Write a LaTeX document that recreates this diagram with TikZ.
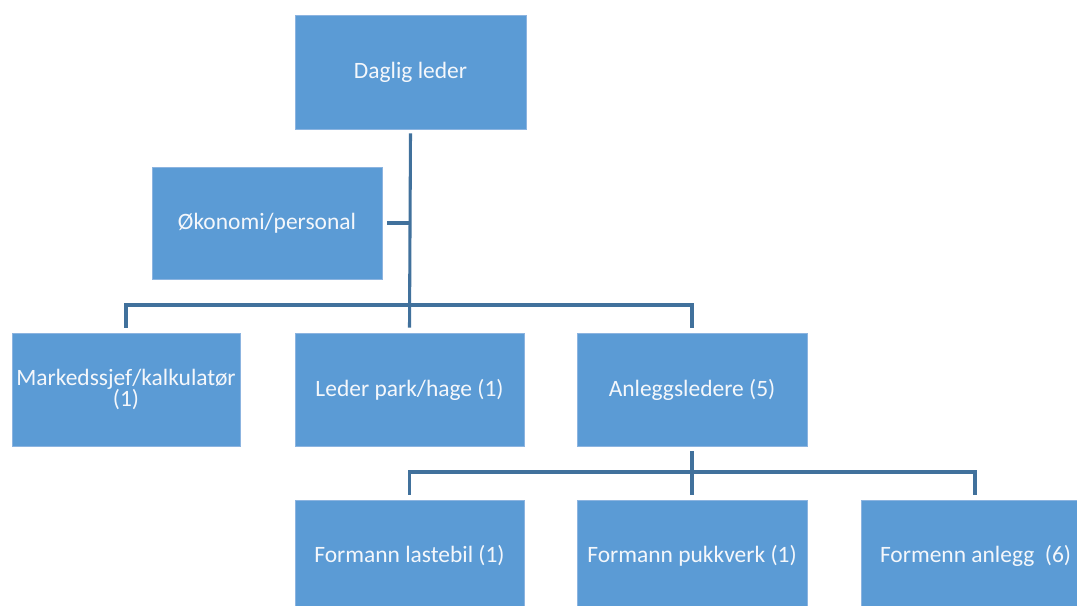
\documentclass[tikz,border=0pt]{standalone}
\usepackage{fontspec}
\setmainfont{Carlito}
\definecolor{boxfill}{HTML}{5B9BD5}
\definecolor{boxedge}{HTML}{8CB4E0}
\definecolor{linecol}{HTML}{41719C}
\definecolor{boxtext}{HTML}{F4F7FB}
\begin{document}
\begin{tikzpicture}[x=0.75pt,y=-0.75pt,
  orgbox/.style={draw=boxedge,line width=0.6pt,fill=boxfill,text=boxtext,
    inner sep=0pt,align=center,font=\fontsize{17.6}{16}\selectfont},
  conn/.style={draw=linecol,line width=2.3pt}]
\useasboundingbox (0,0) rectangle (1077,606);
% boxes (corners in pixel coordinates)
\node[orgbox,minimum width=231*0.75pt,minimum height=114*0.75pt] (dl) at (410.5,72) {Daglig leder};
\node[orgbox,minimum width=230*0.75pt,minimum height=112*0.75pt] (ok) at (267,223) {Økonomi/personal};
\node[orgbox,minimum width=228*0.75pt,minimum height=113*0.75pt] (ms) at (126,389.5) {Markedssjef/kalkulatør\\(1)};
\node[orgbox,minimum width=229*0.75pt,minimum height=113*0.75pt] (lp) at (409.5,389.5) {Leder park/hage (1)};
\node[orgbox,minimum width=230*0.75pt,minimum height=113*0.75pt] (al) at (692,389.5) {Anleggsledere (5)};
\node[orgbox,minimum width=229*0.75pt,minimum height=112*0.75pt] (fl) at (409.5,556) {Formann lastebil (1)};
\node[orgbox,minimum width=230*0.75pt,minimum height=112*0.75pt] (fp) at (692,556) {Formann pukkverk (1)};
\node[orgbox,minimum width=230*0.75pt,minimum height=112*0.75pt] (fa) at (976,556) {\makebox[144pt][l]{Formenn anlegg\ \ (6)}};
% junction coordinates
\coordinate (b1) at (409.5,305);
\coordinate (b2) at (692,472);
% connectors
\draw[conn] ([yshift=-4*0.75pt]dl.south) -- ([yshift=5*0.75pt]lp.north);
\draw[conn] ([xshift=5*0.75pt]ok.east) -- (ok.east -| b1);
\draw[conn] ([yshift=5*0.75pt]ms.north) |- (b1) -| ([yshift=5*0.75pt]al.north);
\draw[conn] ([yshift=-5*0.75pt]al.south) -- ([yshift=5*0.75pt]fp.north);
\draw[conn] ([yshift=5*0.75pt]fl.north) |- (b2) -| ([xshift=-1*0.75pt,yshift=5*0.75pt]fa.north);
\end{tikzpicture}
\end{document}
